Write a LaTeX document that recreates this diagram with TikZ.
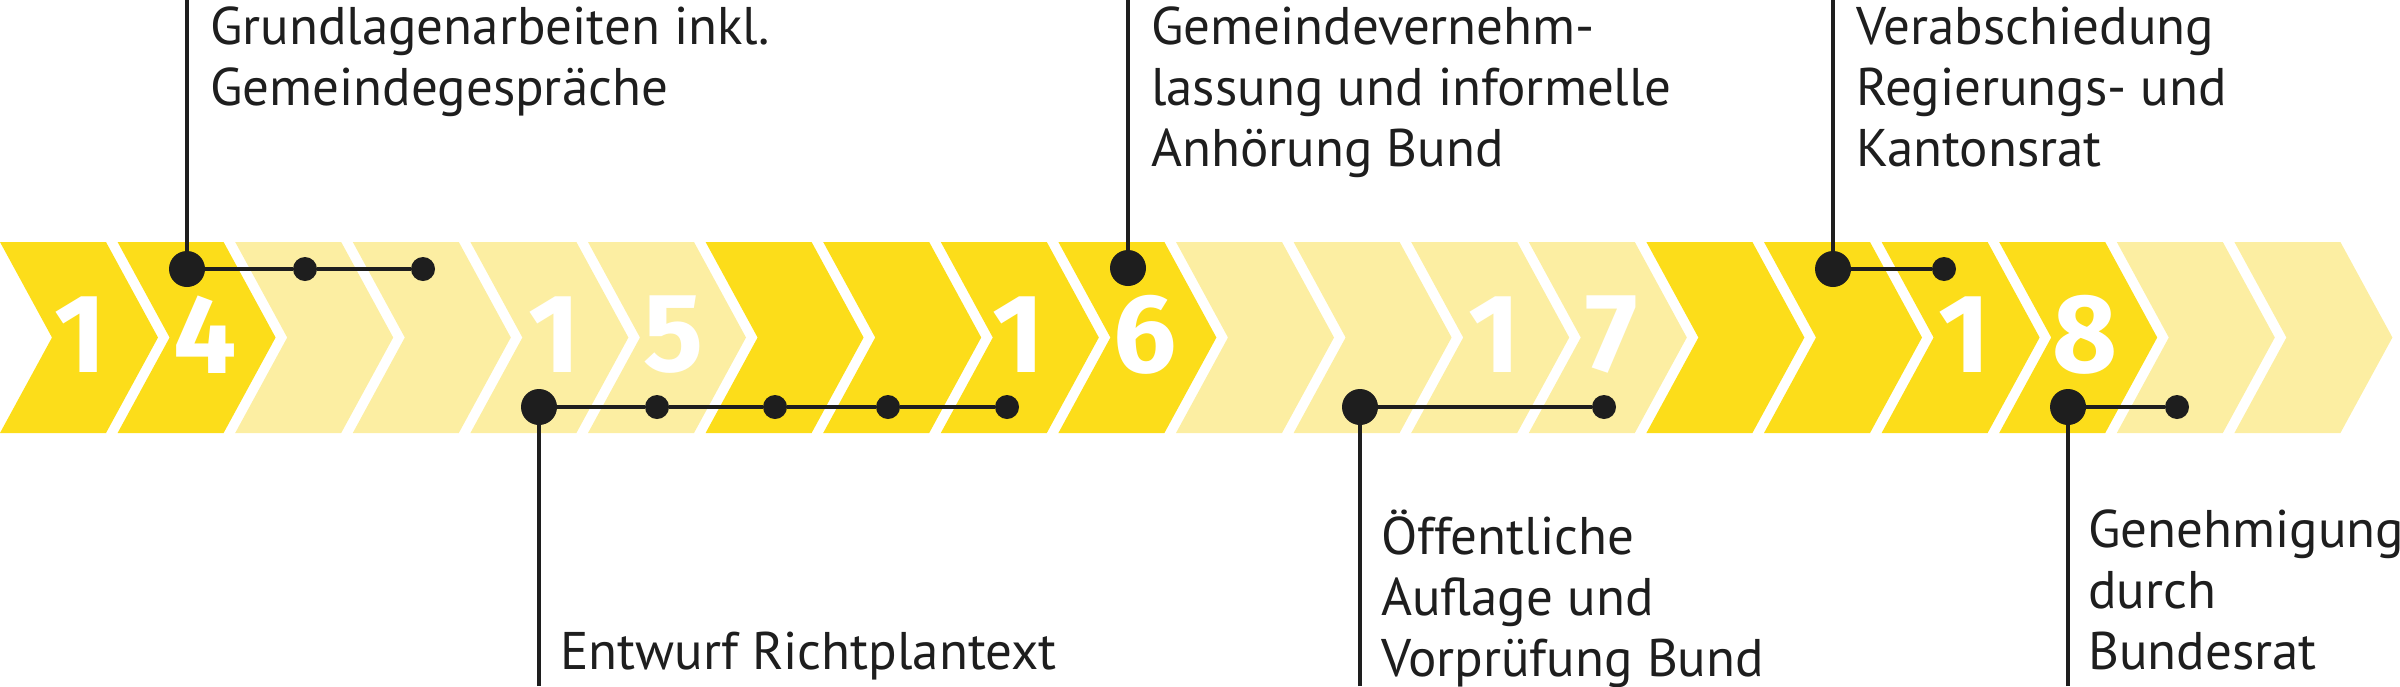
\documentclass[tikz,border=0pt]{standalone}
\usepackage{fontspec}
\setmainfont{PT Sans}
\newfontfamily\digitfont{Fira Sans}
\begin{document}
\begin{tikzpicture}[x=1pt,y=-1pt,
  dk/.style={fill={rgb,255:red,252;green,221;blue,26}},
  lt/.style={fill={rgb,255:red,252;green,238;blue,162}},
  num/.style={text=white,font=\digitfont\bfseries\fontsize{112}{112}\selectfont,inner sep=0pt},
  lbl/.style={anchor=north west,inner sep=0pt,align=left,font=\fontsize{53}{61}\selectfont,text={rgb,255:red,30;green,30;blue,30}},
  bigdot/.style={circle,fill={rgb,255:red,30;green,30;blue,30},minimum size=36pt,inner sep=0pt},
  smdot/.style={circle,fill={rgb,255:red,30;green,30;blue,30},minimum size=24pt,inner sep=0pt},
  ln/.style={draw={rgb,255:red,30;green,30;blue,30},line width=4pt}]
\useasboundingbox (0,0) rectangle (2400,686);
\foreach \i in {0,...,19}{
  \pgfmathsetmacro{\xo}{117.6*\i}
  \pgfmathtruncatemacro{\m}{mod(\i,8)}
  \ifnum\m<2 \def\st{dk}\else\ifnum\m>5 \def\st{dk}\else\def\st{lt}\fi\fi
  \path[\st] (\xo,242) -- ++(106,0) -- ++(52,95.5) -- ++(-52,95.5) -- ++(-106,0) -- ++(52,-95.5) -- cycle;
}
\node[num] (n1) at (80,335) {1};
\node[num] (n2) at (205,335) {4};
\node[num] (n3) at (554,335) {1};
\node[num] (n4) at (674,335) {5};
\node[num] (n5) at (1018,335) {1};
\node[num] (n6) at (1145,335) {6};
\node[num] (n7) at (1494,335) {1};
\node[num] (n8) at (1612,335) {7};
\node[num] (n9) at (1964,335) {1};
\node[num] (n10) at (2085,335) {8};
% top 1
\coordinate (t1) at (187,0);
\node[bigdot] (a0) at (187,269) {};
\node[smdot] (a1) at (305,269) {};
\node[smdot] (a2) at (423,269) {};
\draw[ln] (t1) -- (a0) -- (a1) -- (a2);
\node[lbl] (la) at (210,7) {Grundlagenarbeiten inkl.\\Gemeindegespräche};
% top 2
\coordinate (t2) at (1128,0);
\node[bigdot] (b0) at (1128,268) {};
\draw[ln] (t2) -- (b0);
\node[lbl] (lb) at (1151,7) {Gemeindevernehm-\\lassung und informelle\\Anhörung Bund};
% top 3
\coordinate (t3) at (1833,0);
\node[bigdot] (c0) at (1833,269) {};
\node[smdot] (c1) at (1944,269) {};
\draw[ln] (t3) -- (c0) -- (c1);
\node[lbl] (lc) at (1856,7) {Verabschiedung\\Regierungs- und\\Kantonsrat};
% bottom 1
\coordinate (u1) at (539,686);
\node[bigdot] (d0) at (539,407) {};
\node[smdot] (d1) at (657,407) {};
\node[smdot] (d2) at (775,407) {};
\node[smdot] (d3) at (888,407) {};
\node[smdot] (d4) at (1007,407) {};
\draw[ln] (u1) -- (d0) -- (d1) -- (d2) -- (d3) -- (d4);
\node[lbl] (ld) at (560,632) {Entwurf Richtplantext};
% bottom 2
\coordinate (u2) at (1360,686);
\node[bigdot] (e0) at (1360,407) {};
\node[smdot] (e1) at (1604,407) {};
\draw[ln] (u2) -- (e0) -- (e1);
\node[lbl] (le) at (1381,510) {Öffentliche\\Auflage und\\Vorprüfung Bund};
% bottom 3
\coordinate (u3) at (2068,686);
\node[bigdot] (f0) at (2068,407) {};
\node[smdot] (f1) at (2177,407) {};
\draw[ln] (u3) -- (f0) -- (f1);
\node[lbl] (lf) at (2088,510) {Genehmigung\\durch\\Bundesrat};
\end{tikzpicture}
\end{document}
